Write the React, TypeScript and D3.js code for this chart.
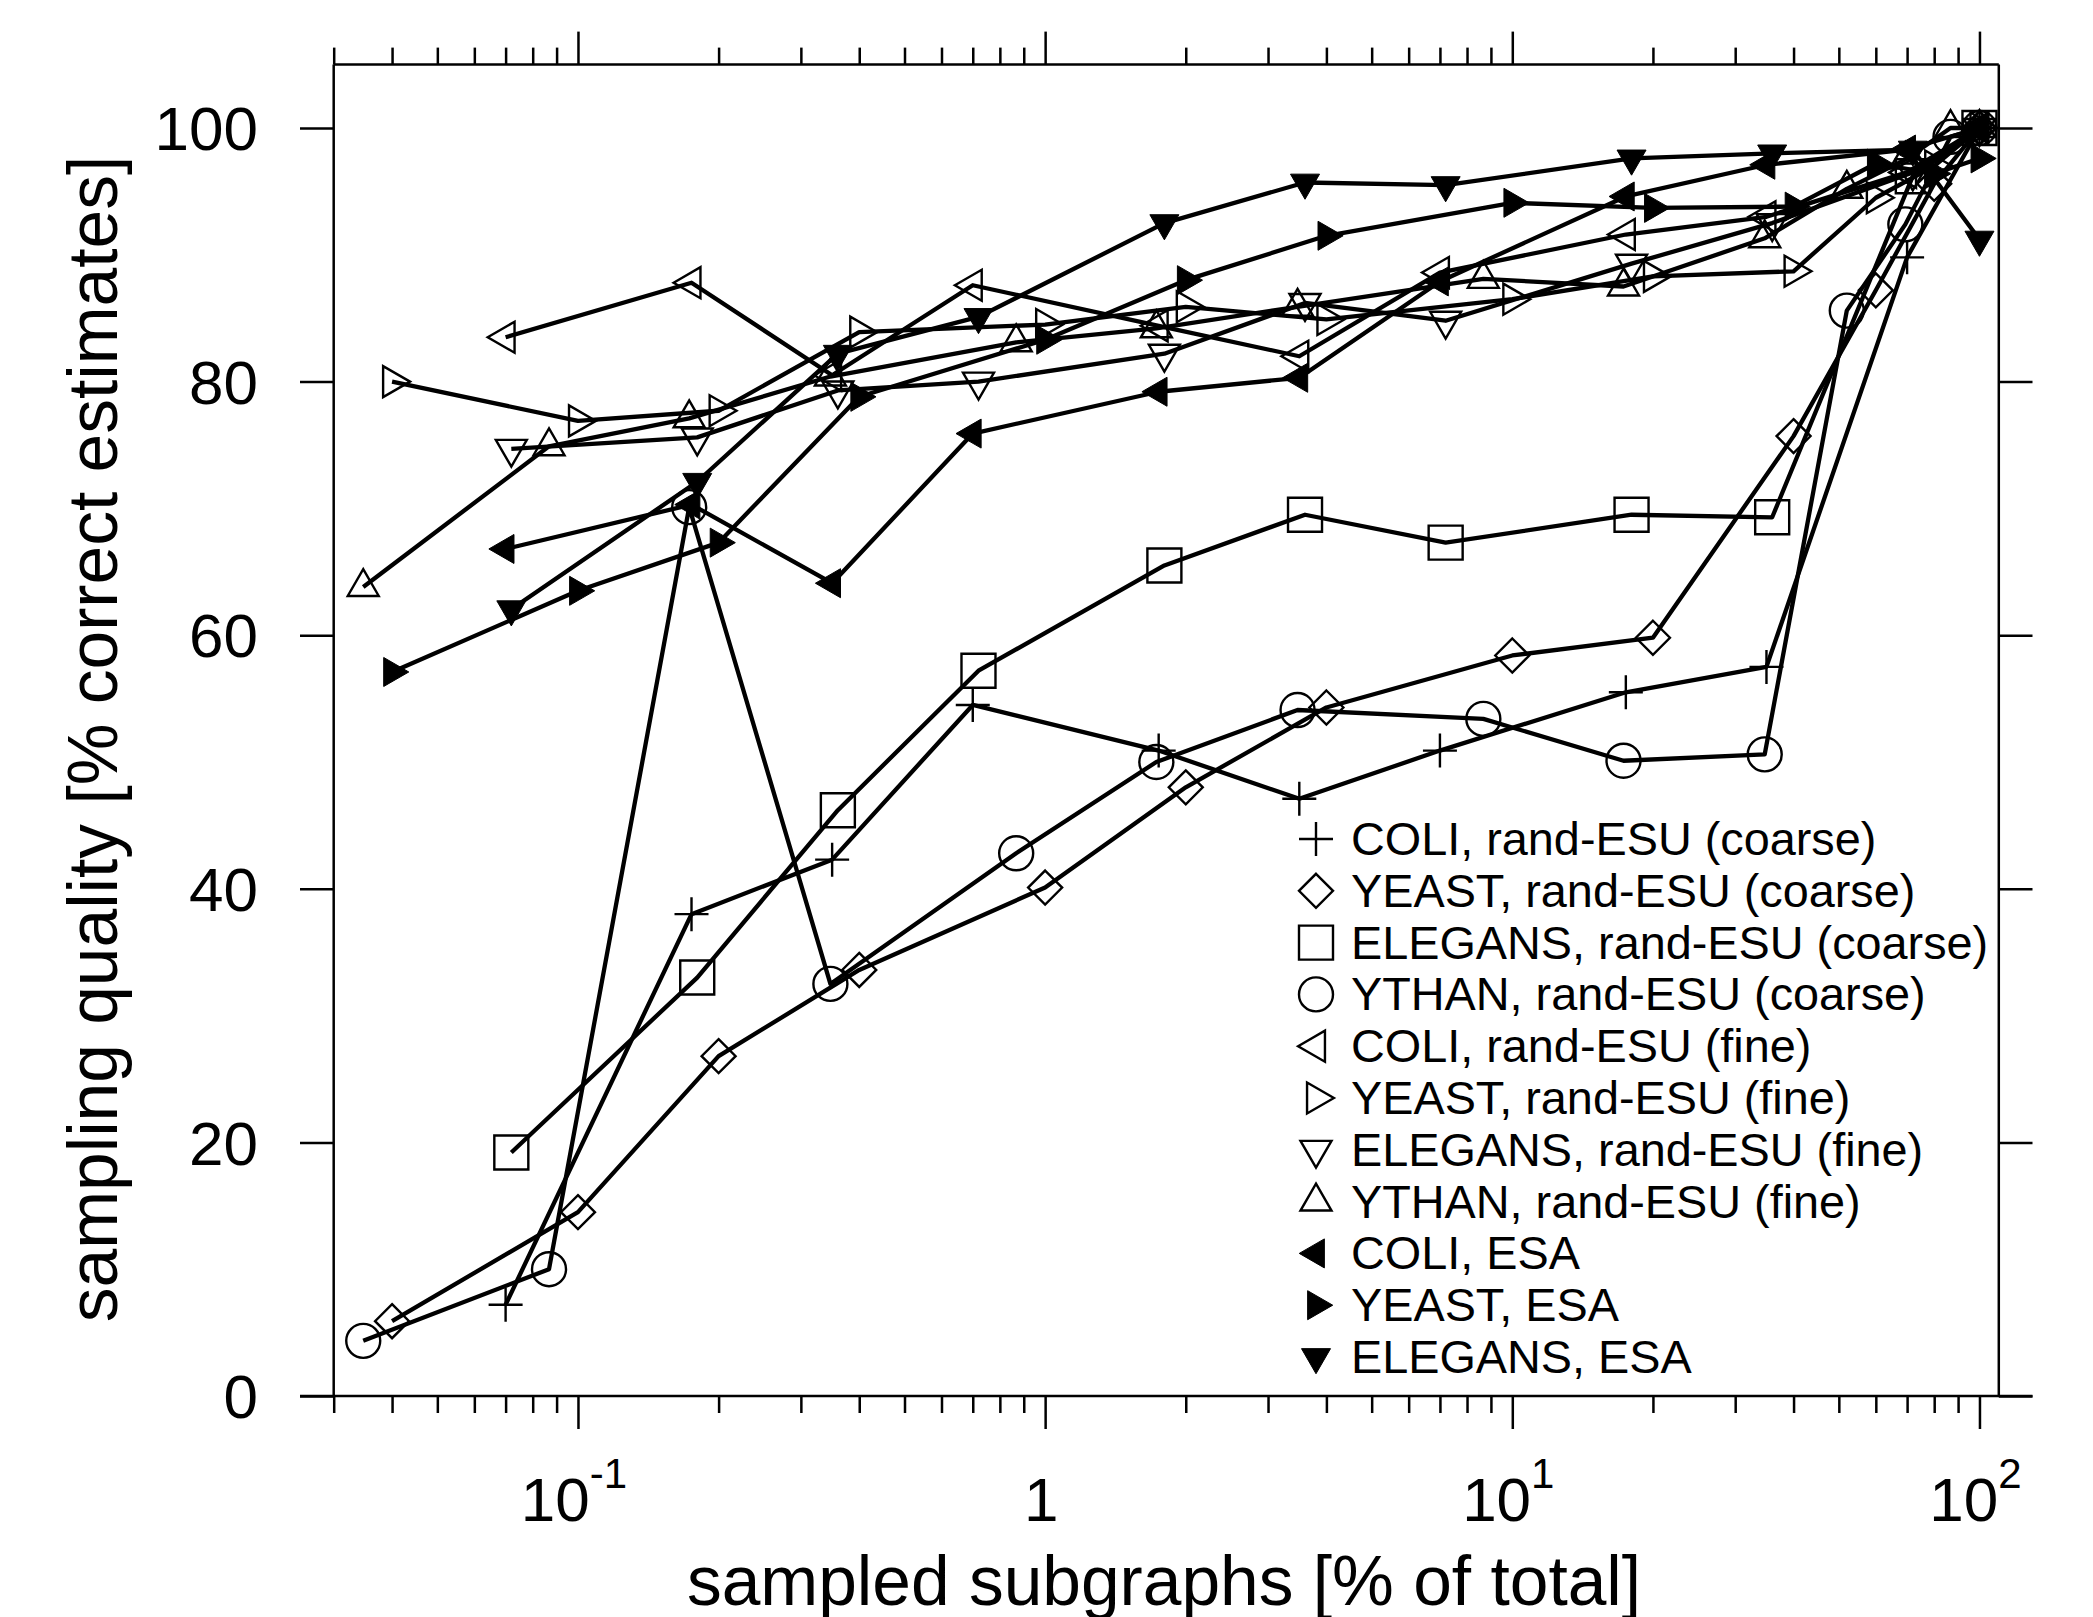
import React, { useEffect, useRef } from "react";
import * as d3 from "d3";

// x positions (% of total subgraphs sampled) per network
const coliX = [0.07, 0.175, 0.35, 0.7, 1.75, 3.5, 7, 17.5, 35, 70, 100];
const yeastX = [0.04, 0.1, 0.2, 0.4, 1, 2, 4, 10, 20, 40, 60, 80, 100];
const elegansX = [0.072, 0.18, 0.36, 0.72, 1.8, 3.6, 7.2, 18, 36, 72, 100];
const ythanX = [0.0347, 0.0867, 0.173, 0.347, 0.867, 1.73, 3.47, 8.67, 17.3, 34.7, 52, 69.4, 86.7, 100];

// sampling quality [% correct estimates]
const coliCoarse = [7.2, 38.0, 42.3, 54.5, 50.9, 47.1, 50.9, 55.5, 57.5, 89.8, 100];
const yeastCoarse = [5.9, 14.5, 26.8, 33.6, 40.1, 48.0, 54.3, 58.4, 59.8, 75.7, 87.2, 95.6, 100];
const elegansCoarse = [19.2, 33.0, 46.2, 57.2, 65.5, 69.5, 67.3, 69.5, 69.3, 96.2, 100];
const ythanCoarse = [4.35, 10.0, 70.1, 32.5, 42.8, 50.0, 54.1, 53.4, 50.1, 50.6, 85.6, 92.4, 99.3, 100];
const coliFine = [83.5, 87.8, 80.5, 87.6, 84.4, 82.0, 88.6, 91.6, 93.0, 96.5, 100];
const yeastFine = [80.0, 76.9, 77.7, 83.9, 84.5, 85.9, 84.9, 86.5, 88.3, 88.7, 94.5, 97.0, 100];
const elegansFine = [74.7, 75.6, 79.3, 80.0, 82.2, 86.2, 84.8, 89.3, 92.5, 96.5, 100];
const ythanFine = [63.8, 74.9, 77.1, 80.4, 83.1, 84.2, 85.9, 88.1, 87.5, 91.3, 95.2, 97.5, 100, 100];
const coliEsa = [66.8, 70.3, 64.1, 75.9, 79.2, 80.3, 87.9, 94.6, 97.1, 98.3, 100];
const yeastEsa = [57.1, 63.5, 67.3, 78.8, 83.3, 88.0, 91.5, 94.1, 93.7, 93.8, 97.2, 96.4, 97.6];
const elegansEsa = [62.05, 72.1, 82.2, 85.1, 92.5, 95.7, 95.5, 97.6, 98.0, 98.3, 91.2];

const seriesLabels = [
  "COLI, rand-ESU (coarse)",
  "YEAST, rand-ESU (coarse)",
  "ELEGANS, rand-ESU (coarse)",
  "YTHAN, rand-ESU (coarse)",
  "COLI, rand-ESU (fine)",
  "YEAST, rand-ESU (fine)",
  "ELEGANS, rand-ESU (fine)",
  "YTHAN, rand-ESU (fine)",
  "COLI, ESA",
  "YEAST, ESA",
  "ELEGANS, ESA",
];
const seriesX = [coliX, yeastX, elegansX, ythanX, coliX, yeastX, elegansX, ythanX, coliX, yeastX, elegansX];
const seriesY = [
  coliCoarse, yeastCoarse, elegansCoarse, ythanCoarse,
  coliFine, yeastFine, elegansFine, ythanFine,
  coliEsa, yeastEsa, elegansEsa,
];
const seriesMarkers = [
  "plus", "diamond", "square", "circle",
  "left", "right", "down", "up",
  "leftFilled", "rightFilled", "downFilled",
];

const yTicks = [0, 20, 40, 60, 80, 100];
const xMajorTicks = [0.1, 1, 10, 100];
const xTickBase = ["10", "1", "10", "10"];
const xTickExp = ["-1", "", "1", "2"];

const FONT = "'Liberation Sans', Arial, Helvetica, sans-serif";

function triangle(dir: string, side: number) {
  const h = (side * Math.sqrt(3)) / 2;
  let pts = [
    [0, (-2 * h) / 3],
    [side / 2, h / 3],
    [-side / 2, h / 3],
  ];
  const rot: Record<string, number> = { up: 0, right: 90, down: 180, left: 270 };
  const a = (rot[dir] * Math.PI) / 180;
  pts = pts.map(([px, py]) => [px * Math.cos(a) - py * Math.sin(a), px * Math.sin(a) + py * Math.cos(a)]);
  return "M" + pts.map((p) => p[0].toFixed(2) + "," + p[1].toFixed(2)).join("L") + "Z";
}

function markerPath(type: string) {
  switch (type) {
    case "plus":
      return "M-17,0H17M0,-17V17";
    case "diamond":
      return "M0,-17L17,0L0,17L-17,0Z";
    case "square":
      return "M-17,-17H17V17H-17Z";
    case "circle":
      return "M17,0A17,17 0 1,1 -17,0A17,17 0 1,1 17,0Z";
    default: {
      const filled = type.endsWith("Filled");
      const dir = type.replace("Filled", "");
      return triangle(dir, filled ? 29 : 31);
    }
  }
}

export default function App() {
  const svgRef = useRef<SVGSVGElement>(null);

  useEffect(() => {
    const width = 2093;
    const height = 1617;
    const plot = { left: 333.7, right: 1998.8, top: 64.6, bottom: 1396 };

    const svg = d3.select(svgRef.current).attr("width", width).attr("height", height);
    svg.selectAll("*").remove();
    svg.append("rect").attr("width", width).attr("height", height).attr("fill", "#fff");

    const x = d3.scaleLog().domain([0.03, 110]).range([plot.left, plot.right]);
    const y = d3.scaleLinear().domain([0, 105]).range([plot.bottom, plot.top]);

    const minorTicks: number[] = [];
    [0.01, 0.1, 1, 10].forEach((dec) => {
      for (let k = 2; k <= 9; k++) {
        const v = dec * k;
        if (v >= 0.03 && v <= 110) minorTicks.push(v);
      }
    });

    const styleAxis = (g: any) => {
      g.select(".domain").remove();
      g.selectAll("line").attr("stroke", "#000").attr("stroke-width", 2.5);
    };

    // x ticks, bottom and top
    svg.append("g").attr("transform", `translate(0,${plot.bottom})`)
      .call(d3.axisBottom(x).tickValues(xMajorTicks).tickSize(33).tickFormat(() => ""))
      .call(styleAxis);
    svg.append("g").attr("transform", `translate(0,${plot.bottom})`)
      .call(d3.axisBottom(x).tickValues(minorTicks).tickSize(17).tickFormat(() => ""))
      .call(styleAxis);
    svg.append("g").attr("transform", `translate(0,${plot.top})`)
      .call(d3.axisTop(x).tickValues(xMajorTicks).tickSize(33).tickFormat(() => ""))
      .call(styleAxis);
    svg.append("g").attr("transform", `translate(0,${plot.top})`)
      .call(d3.axisTop(x).tickValues(minorTicks).tickSize(17).tickFormat(() => ""))
      .call(styleAxis);

    // y ticks, left (with labels) and right
    const yLeft = svg.append("g").attr("transform", `translate(${plot.left},0)`)
      .call(d3.axisLeft(y).tickValues(yTicks).tickSize(33.7).tickPadding(42))
      .call(styleAxis);
    yLeft.selectAll("text")
      .attr("font-family", FONT)
      .attr("font-size", 62)
      .attr("fill", "#000")
      .attr("dy", "0.35em");
    svg.append("g").attr("transform", `translate(${plot.right},0)`)
      .call(d3.axisRight(y).tickValues(yTicks).tickSize(33.7).tickFormat(() => ""))
      .call(styleAxis);

    // frame
    const frame = svg.append("g").attr("stroke", "#000").attr("stroke-width", 2.5);
    frame.append("line").attr("x1", plot.left).attr("x2", plot.left).attr("y1", plot.top).attr("y2", plot.bottom);
    frame.append("line").attr("x1", plot.right).attr("x2", plot.right).attr("y1", plot.top).attr("y2", plot.bottom);
    frame.append("line").attr("x1", plot.left).attr("x2", plot.right).attr("y1", plot.top).attr("y2", plot.top);
    frame.append("line").attr("x1", plot.left - 33.7).attr("x2", plot.right + 33.7).attr("y1", plot.bottom).attr("y2", plot.bottom);

    // x tick labels with superscripts
    xMajorTicks.forEach((v, i) => {
      const t = svg.append("text")
        .attr("x", x(v) - 4)
        .attr("y", 1521)
        .attr("text-anchor", "middle")
        .attr("font-family", FONT)
        .attr("font-size", 62);
      t.append("tspan").text(xTickBase[i]);
      if (xTickExp[i]) {
        t.append("tspan").attr("dy", -33).attr("font-size", 42).text(xTickExp[i]);
      }
    });

    // axis titles
    svg.append("text")
      .attr("x", 1164)
      .attr("y", 1605)
      .attr("text-anchor", "middle")
      .attr("font-family", FONT)
      .attr("font-size", 69.5)
      .text("sampled subgraphs [% of total]");
    svg.append("text")
      .attr("transform", "translate(117,739) rotate(-90)")
      .attr("text-anchor", "middle")
      .attr("font-family", FONT)
      .attr("font-size", 69.5)
      .text("sampling quality [% correct estimates]");

    // series lines
    const line = d3.line<[number, number]>().x((d) => x(d[0])).y((d) => y(d[1]));
    const series = seriesLabels.map((name, i) => ({
      name,
      marker: seriesMarkers[i],
      points: seriesX[i].map((xv, j) => [xv, seriesY[i][j]] as [number, number]),
    }));

    const plotG = svg.append("g");
    series.forEach((s) => {
      plotG.append("path")
        .attr("d", line(s.points))
        .attr("fill", "none")
        .attr("stroke", "#000")
        .attr("stroke-width", 4.3)
        .attr("stroke-linejoin", "round");
    });

    const drawMarker = (g: any, type: string, cx: number, cy: number) => {
      const filled = type.endsWith("Filled");
      g.append("path")
        .attr("d", markerPath(type))
        .attr("transform", `translate(${cx},${cy})`)
        .attr("fill", filled ? "#000" : "none")
        .attr("stroke", "#000")
        .attr("stroke-width", filled ? 1 : 2.4);
    };

    series.forEach((s) => {
      s.points.forEach((p) => drawMarker(plotG, s.marker, x(p[0]), y(p[1])));
    });

    // legend
    const legend = svg.append("g");
    series.forEach((s, i) => {
      const cy = 839 + i * 51.8;
      drawMarker(legend, s.marker, 1316, cy);
      legend.append("text")
        .attr("x", 1351)
        .attr("y", cy + 16)
        .attr("font-family", FONT)
        .attr("font-size", 46.8)
        .text(s.name);
    });
  }, []);

  return <svg ref={svgRef} style={{ position: "absolute", left: 0, top: 0 }}></svg>;
}
